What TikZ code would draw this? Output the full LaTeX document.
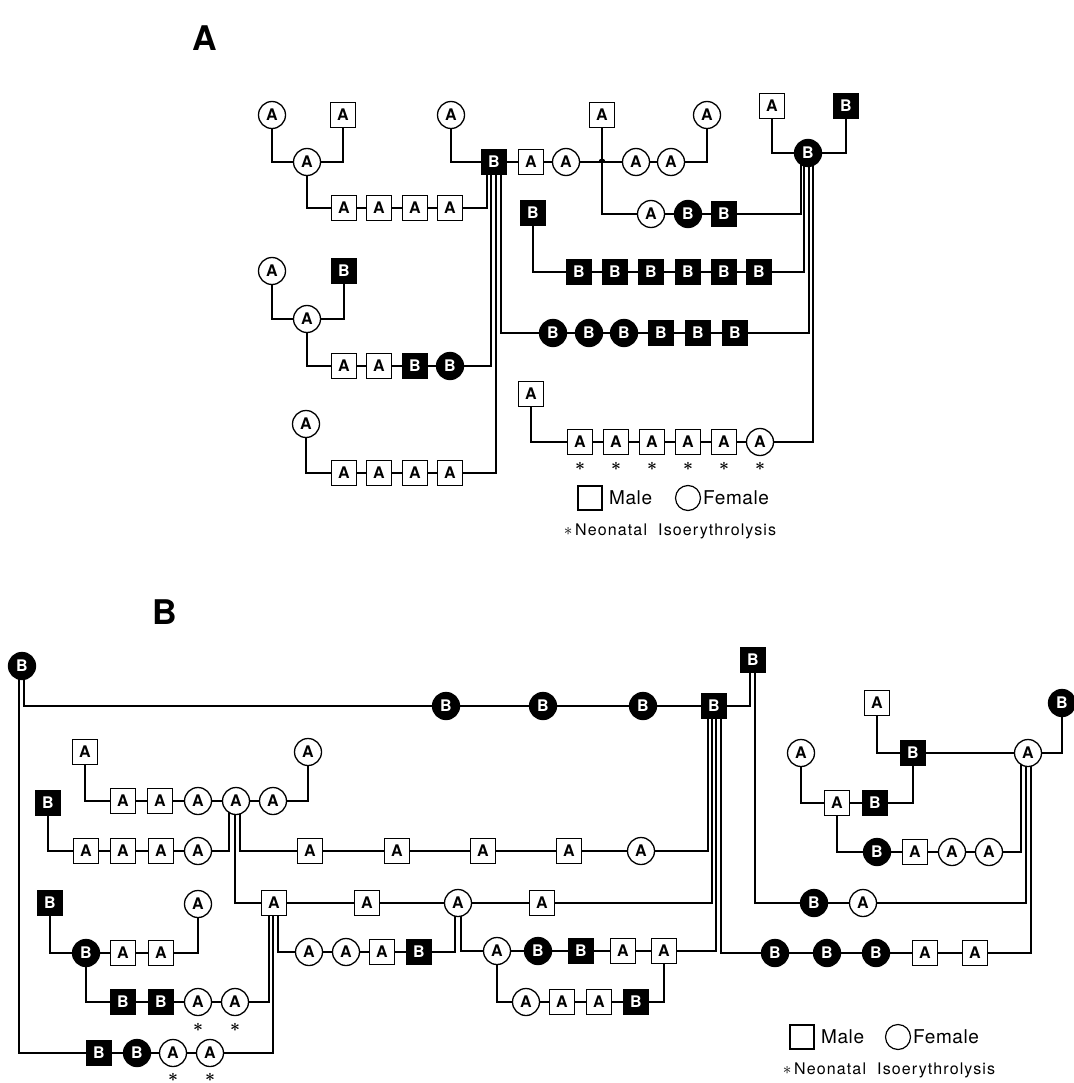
\documentclass[tikz,border=0pt]{standalone}
\usepackage{fontspec}
\setsansfont{TeX Gyre Heros}
\usetikzlibrary{backgrounds}
\newcommand\hbf{\fontsize{16}{16}\selectfont\sffamily\bfseries}
\newcommand\nitfont{\fontsize{16}{16}\selectfont\sffamily\addfontfeatures{LetterSpace=7}}
\begin{document}
\begin{tikzpicture}[x=1pt,y=-1pt,
  ln/.style={line width=1.3pt},
  nd/.style={draw, line width=1.3pt, inner sep=0pt, font=\hbf},
  sqA/.style={nd, rectangle, minimum size=25pt, fill=white},
  sqB/.style={nd, rectangle, minimum size=25pt, fill=black, text=white},
  ciA/.style={nd, circle, minimum size=27pt, fill=white},
  ciB/.style={nd, circle, minimum size=27pt, fill=black, text=white},
  ast/.style={inner sep=0pt, font=\fontsize{19}{19}\selectfont\boldmath},
  ttl/.style={inner sep=0pt, font=\fontsize{34}{34}\selectfont\sffamily\bfseries},
  lgd/.style={inner sep=0pt, anchor=west, font=\fontsize{19}{19}\selectfont\sffamily\addfontfeatures{LetterSpace=3}},
  nit/.style={inner sep=0pt, font=\nitfont},
  lsq/.style={draw, line width=1.2pt, minimum size=24pt, inner sep=0pt},
  lci/.style={draw, circle, line width=1.2pt, minimum size=25pt, inner sep=0pt}
]
\useasboundingbox (0,0) rectangle (1073,1083);

% ===================== PANEL A =====================
\node[ttl] (tA) at (205,38) {A};

% group 1
\node[ciA] (a1) at (272,115) {A};
\node[sqA] (a2) at (343,115) {A};
\node[ciA] (a3) at (307,162) {A};
\node[sqA] (a4) at (344,208) {A};
\node[sqA] (a5) at (379,208) {A};
\node[sqA] (a6) at (415,208) {A};
\node[sqA] (a7) at (450,208) {A};
\node[ciA] (a8) at (451,115) {A};
\node[sqB] (aB) at (494,162) {B};
\node[sqA] (a9) at (531,162) {A};
\node[ciA] (a10) at (566,162) {A};
\coordinate (jA) at (602,162);
\node[ciA] (a11) at (636,162) {A};
\node[ciA] (a12) at (671,162) {A};
\node[ciA] (a13) at (707,115) {A};
\node[sqA] (a14) at (602,115) {A};
\node[ciA] (a15) at (651,214) {A};
\node[ciB] (a16) at (688,214) {B};
\node[sqB] (a17) at (724,214) {B};

% top right parents
\node[sqA] (c1) at (772,106) {A};
\node[sqB] (c2) at (846,106) {B};
\node[ciB] (cB) at (808,153) {B};

% B square chain
\node[sqB] (d0) at (533,213) {B};
\node[sqB] (d1) at (579,272) {B};
\node[sqB] (d2) at (615,272) {B};
\node[sqB] (d3) at (651,272) {B};
\node[sqB] (d4) at (688,272) {B};
\node[sqB] (d5) at (724,272) {B};
\node[sqB] (d6) at (759,272) {B};

% B mixed chain
\node[ciB] (e1) at (553,333) {B};
\node[ciB] (e2) at (589,333) {B};
\node[ciB] (e3) at (624,333) {B};
\node[sqB] (e4) at (661,333) {B};
\node[sqB] (e5) at (698,333) {B};
\node[sqB] (e6) at (735,333) {B};

% group 2
\node[ciA] (b1) at (272,271) {A};
\node[sqB] (b2) at (344,271) {B};
\node[ciA] (b3) at (307,319) {A};
\node[sqA] (b4) at (344,366) {A};
\node[sqA] (b5) at (379,366) {A};
\node[sqB] (b6) at (415,366) {B};
\node[ciB] (b7) at (450,366) {B};

% group 3
\node[ciA] (g1) at (306,424) {A};
\node[sqA] (g2) at (344,473) {A};
\node[sqA] (g3) at (379,473) {A};
\node[sqA] (g4) at (415,473) {A};
\node[sqA] (g5) at (450,473) {A};

% NI chain
\node[sqA] (h0) at (531,394) {A};
\node[sqA] (h1) at (580,442) {A};
\node[sqA] (h2) at (616,442) {A};
\node[sqA] (h3) at (652,442) {A};
\node[sqA] (h4) at (688,442) {A};
\node[sqA] (h5) at (724,442) {A};
\node[ciA] (h6) at (760,442) {A};
\foreach \n/\x in {1/580,2/616,3/652,4/688,5/724,6/760}
  \node[ast] (ha\n) at (\x,466) {$\ast$};

% legend A
\node[lsq] (lA1) at (590,498) {};
\node[lgd] (lA2) at (609,498) {Male};
\node[lci] (lA3) at (688,498) {};
\node[lgd] (lA4) at (703,498) {Female};
\node[nit] (lA5) at (670,531) {$\ast$\,Neonatal\ \ Isoerythrolysis};

\fill ([xshift=-3.5pt]jA) arc[start angle=180, end angle=0, radius=3.5pt];

% ===================== PANEL B =====================
\node[ttl] (tB) at (165,612) {B};

\node[ciB] (P1) at (22,666) {B};
\node[ciB] (Q1) at (446,706) {B};
\node[ciB] (Q2) at (543,706) {B};
\node[ciB] (Q3) at (643,706) {B};
\node[sqB] (Q4) at (714,706) {B};
\node[sqB] (R) at (753,660) {B};

\node[sqA] (U1) at (85,752) {A};
\node[ciA] (U2) at (308,752) {A};
\node[sqA] (U3) at (123,801) {A};
\node[sqA] (U4) at (160,801) {A};
\node[ciA] (U5) at (198,801) {A};
\node[ciA] (U6) at (236,801) {A};
\node[ciA] (U7) at (273,801) {A};

\node[sqB] (V0) at (48,803) {B};
\node[sqA] (V1) at (86,851) {A};
\node[sqA] (V2) at (123,851) {A};
\node[sqA] (V3) at (161,851) {A};
\node[ciA] (V4) at (198,851) {A};

\node[sqA] (W1) at (310,851) {A};
\node[sqA] (W2) at (397,851) {A};
\node[sqA] (W3) at (483,851) {A};
\node[sqA] (W4) at (569,851) {A};
\node[ciA] (W5) at (641,851) {A};

\node[sqA] (X1) at (274,903) {A};
\node[sqA] (X2) at (367,903) {A};
\node[ciA] (X3) at (458,903) {A};
\node[sqA] (X4) at (542,903) {A};

\node[ciA] (Y1) at (309,952) {A};
\node[ciA] (Y2) at (346,952) {A};
\node[sqA] (Y3) at (382,952) {A};
\node[sqB] (Y4) at (419,952) {B};

\node[ciA] (Z1) at (497,951) {A};
\node[ciB] (Z2) at (538,951) {B};
\node[sqB] (Z3) at (581,951) {B};
\node[sqA] (Z4) at (623,951) {A};
\node[sqA] (Z5) at (664,951) {A};
\node[ciA] (ZZ1) at (526,1002) {A};
\node[sqA] (ZZ2) at (562,1002) {A};
\node[sqA] (ZZ3) at (599,1002) {A};
\node[sqB] (ZZ4) at (636,1002) {B};

\node[sqB] (L0) at (50,903) {B};
\node[ciB] (L1) at (86,953) {B};
\node[sqA] (L2) at (123,953) {A};
\node[sqA] (L3) at (161,953) {A};
\node[ciA] (L4) at (198,904) {A};

\node[sqB] (M1) at (123,1002) {B};
\node[sqB] (M2) at (161,1002) {B};
\node[ciA] (M3) at (198,1002) {A};
\node[ciA] (M4) at (235,1002) {A};
\node[ast] (Ma3) at (198,1027) {$\ast$};
\node[ast] (Ma4) at (235,1027) {$\ast$};

\node[sqB] (N1) at (99,1053) {B};
\node[ciB] (N2) at (137,1053) {B};
\node[ciA] (N3) at (173,1053) {A};
\node[ciA] (N4) at (210,1053) {A};
\node[ast] (Na3) at (173,1077) {$\ast$};
\node[ast] (Na4) at (210,1077) {$\ast$};

\node[sqA] (T1) at (877,703) {A};
\node[sqB] (T2) at (913,753) {B};
\node[ciA] (T3) at (1028,753) {A};
\node[ciB] (T4) at (1062,703) {B};
\node[ciA] (T5) at (801,753) {A};
\node[sqA] (T6) at (837,803) {A};
\node[sqB] (T7) at (875,803) {B};

\node[ciB] (K1) at (877,852) {B};
\node[sqA] (K2) at (915,852) {A};
\node[ciA] (K3) at (952,852) {A};
\node[ciA] (K4) at (989,852) {A};

\node[ciB] (S1) at (814,903) {B};
\node[ciA] (S2) at (863,903) {A};

\node[ciB] (J1) at (775,953) {B};
\node[ciB] (J2) at (827,953) {B};
\node[ciB] (J3) at (876,953) {B};
\node[sqA] (J4) at (925,953) {A};
\node[sqA] (J5) at (975,953) {A};

% legend B
\node[lsq] (lB1) at (802,1037) {};
\node[lgd] (lB2) at (821,1037) {Male};
\node[lci] (lB3) at (898,1037) {};
\node[lgd] (lB4) at (913,1037) {Female};
\node[nit] (lB5) at (889,1070) {$\ast$\,Neonatal\ \ Isoerythrolysis};

% ===================== CONNECTORS =====================
\begin{pgfonlayer}{background}
\begin{scope}[ln]
% panel A
\draw (a1) |- (a3);
\draw (a2) |- (a3);
\draw (a3) |- (a4);
\draw (a4) -- (a5) -- (a6) -- (a7);
\draw (a8) |- (aB);
\draw ([xshift=-7pt]aB.center) |- (a7.east);
\draw ([xshift=-3pt]aB.center) |- (b7.east);
\draw ([xshift=2pt]aB.center) |- (g5.east);
\draw ([xshift=7pt]aB.center) |- (e1.west);
\draw (aB) -- (a9) -- (a10) -- (a11) -- (a12);
\draw (a12) -| (a13);
\draw (a14) |- (a15);
\draw (a15) -- (a16) -- (a17);
\draw (c1) |- (cB);
\draw (c2) |- (cB);
\draw ([xshift=-7pt]cB.center) |- (a17.east);
\draw ([xshift=-4pt]cB.center) |- (d6.east);
\draw ([xshift=1pt]cB.center) |- (e6.east);
\draw ([xshift=5pt]cB.center) |- (h6.east);
\draw (d0) |- (d1);
\draw (d1) -- (d2) -- (d3) -- (d4) -- (d5) -- (d6);
\draw (e1) -- (e2) -- (e3) -- (e4) -- (e5) -- (e6);
\draw (b1) |- (b3);
\draw (b2) |- (b3);
\draw (b3) |- (b4);
\draw (b4) -- (b5) -- (b6) -- (b7);
\draw (g1) |- (g2);
\draw (g2) -- (g3) -- (g4) -- (g5);
\draw (h0) |- (h1);
\draw (h1) -- (h2) -- (h3) -- (h4) -- (h5) -- (h6);

% panel B
\draw ([xshift=2pt]P1.center) |- (Q1.west);
\draw (Q1) -- (Q2) -- (Q3) -- (Q4);
\draw ([xshift=-3pt]R.center) |- (Q4.east);
\draw ([xshift=2pt]R.center) |- (S1.west);
\draw (S1) -- (S2);
\draw ([xshift=-3pt]P1.center) |- (N1.west);
\draw (N1) -- (N2) -- (N3) -- (N4);

\draw (U1) |- (U3);
\draw (U3) -- (U4) -- (U5) -- (U6) -- (U7);
\draw (U7) -| (U2);
\draw (V0) |- (V1);
\draw (V1) -- (V2) -- (V3) -- (V4);
\draw ([xshift=-7pt]U6.center) |- (V4.east);
\draw ([xshift=-1pt]U6.center) |- (X1.west);
\draw ([xshift=4pt]U6.center) |- (W1.west);
\draw (W1) -- (W2) -- (W3) -- (W4) -- (W5);
\draw ([xshift=-6pt]Q4.center) |- (W5.east);
\draw (X1) -- (X2) -- (X3) -- (X4);
\draw ([xshift=-2pt]Q4.center) |- (X4.east);
\draw ([xshift=4pt]X1.center) |- (Y1.west);
\draw (Y1) -- (Y2) -- (Y3) -- (Y4);
\draw ([xshift=-3pt]X3.center) |- (Y4.east);
\draw ([xshift=3pt]X3.center) |- (Z1.west);
\draw (Z1) -- (Z2) -- (Z3) -- (Z4) -- (Z5);
\draw ([xshift=2pt]Q4.center) |- (Z5.east);
\draw (Z1) |- (ZZ1);
\draw (ZZ1) -- (ZZ2) -- (ZZ3) -- (ZZ4);
\draw (ZZ4) -| (Z5);
\draw (L0) |- (L1);
\draw (L1) -- (L2) -- (L3);
\draw (L3) -| (L4);
\draw (L1) |- (M1);
\draw (M1) -- (M2) -- (M3) -- (M4);
\draw ([xshift=-5pt]X1.center) |- (M4.east);
\draw ([xshift=-1pt]X1.center) |- (N4.east);

\draw (T1) |- (T2);
\draw (T2) -- (T3);
\draw (T4) |- (T3);
\draw (T5) |- (T6);
\draw (T6) -- (T7);
\draw (T7) -| (T2);
\draw (T6) |- (K1);
\draw (K1) -- (K2) -- (K3) -- (K4);
\draw ([xshift=-7pt]T3.center) |- (K4.east);
\draw ([xshift=-2pt]T3.center) |- (S2.east);
\draw ([xshift=7pt]Q4.center) |- (J1.west);
\draw (J1) -- (J2) -- (J3) -- (J4) -- (J5);
\draw ([xshift=3pt]T3.center) |- (J5.east);
\end{scope}
\end{pgfonlayer}
\end{tikzpicture}
\end{document}
